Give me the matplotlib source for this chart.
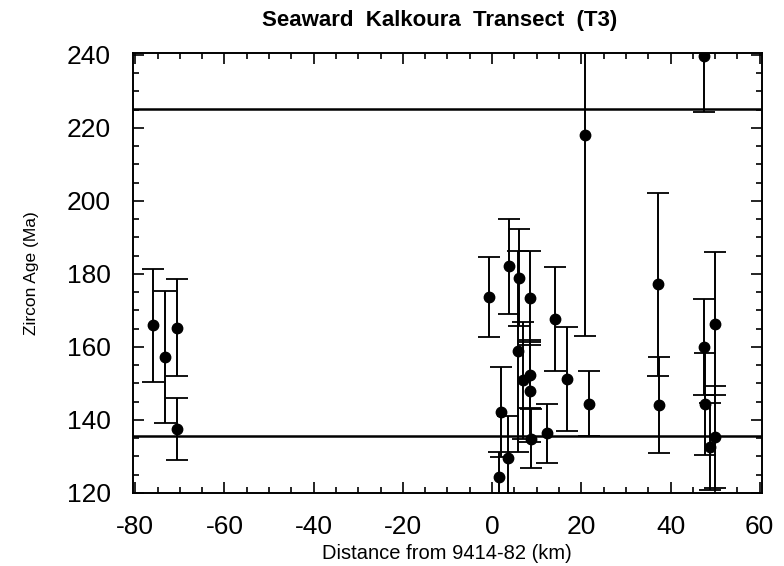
import matplotlib
matplotlib.use("Agg")
import matplotlib.pyplot as plt
from matplotlib.ticker import MultipleLocator

plt.rcParams['font.family'] = ['Liberation Sans', 'DejaVu Sans']
plt.rcParams['axes.unicode_minus'] = False

# Distance from 9414-82 (km)
distance = [-76.1, -73.4, -70.7, -70.6, -0.75, 1.6, 1.9, 3.6, 3.8, 5.9, 6.1, 6.85,
            8.5, 8.5, 8.5, 8.7, 12.4, 14.2, 16.9, 20.8, 21.7, 37.2, 37.5,
            47.5, 47.6, 47.8, 48.8, 49.9, 49.9]
# Zircon age (Ma)
age = [165.9, 157.3, 165.3, 137.4, 173.7, 124.5, 142.1, 129.7, 182.1, 158.8, 178.9, 150.9,
       173.4, 152.3, 147.9, 134.9, 136.3, 167.6, 151.2, 218.1, 144.5, 177.1, 144.1,
       239.7, 160.0, 144.3, 132.7, 166.4, 135.4]
# Age uncertainty (Ma)
age_err = [15.5, 18.0, 13.3, 8.5, 11.0, 6.8, 12.3, 11.4, 13.0, 27.5, 13.3, 16.0,
           12.8, 9.0, 14.0, 8.0, 8.2, 14.3, 14.3, 55.0, 8.9, 25.0, 13.2,
           15.3, 13.2, 14.0, 12.0, 19.6, 14.0]

# Reference horizontal lines (Ma)
ref_lines = [225.2, 135.6]

x_ticks = [-80, -60, -40, -20, 0, 20, 40, 60]
y_ticks = [120, 140, 160, 180, 200, 220, 240]

fig = plt.figure(figsize=(7.84, 5.66), dpi=100)
ax = fig.add_axes([0.1696, 0.129, 0.8023, 0.778])

ax.errorbar(distance, age, yerr=age_err, fmt='o', color='black', ms=7.5,
            elinewidth=1.4, capsize=8, capthick=1.3, zorder=3)

for yl in ref_lines:
    ax.axhline(yl, color='black', lw=1.8, zorder=2)

ax.set_xlim(-80.5, 60.5)
ax.set_ylim(120, 240.6)
ax.set_xticks(x_ticks)
ax.set_yticks(y_ticks)
ax.xaxis.set_minor_locator(MultipleLocator(5))
ax.yaxis.set_minor_locator(MultipleLocator(5))
ax.tick_params(which='both', direction='in', top=True, right=True, width=1.2)
ax.tick_params(which='major', length=8, labelsize=19)
ax.tick_params(axis='x', which='major', pad=16)
ax.tick_params(axis='y', which='major', pad=16)
ax.tick_params(which='minor', length=4)
for s in ax.spines.values():
    s.set_linewidth(1.4)

fig.text(0.561, 0.964, 'Seaward  Kalkoura  Transect  (T3)', fontsize=16,
         fontweight='bold', ha='center', va='center')
ax.set_xlabel('Distance from 9414-82 (km)', fontsize=14.5)
ax.xaxis.set_label_coords(0.499, -0.115)
ax.set_ylabel('Zircon Age (Ma)', fontsize=12.5)
ax.yaxis.set_label_coords(-0.149, 0.5)

fig.savefig('out.png', dpi=100)
